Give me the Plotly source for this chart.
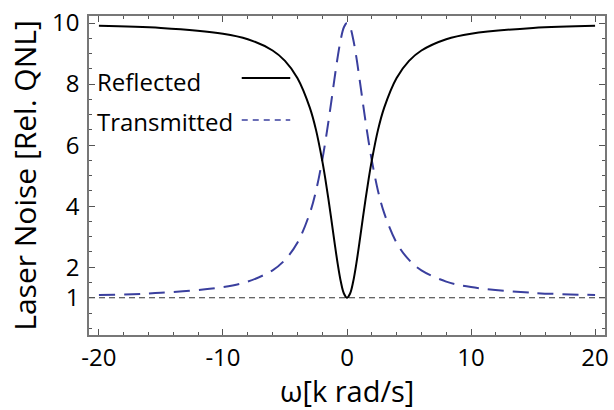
import plotly.graph_objects as go

# Values
omega = [-20, -15, -10, -8, -6, -5, -4, -3, -2.5, -2, -1.75, -1.5, -1.25, -1, -0.75, -0.5, -0.25, 0,
         0.25, 0.5, 0.75, 1, 1.25, 1.5, 1.75, 2, 2.5, 3, 4, 5, 6, 8, 10, 15, 20]
reflected = [9.91, 9.84, 9.65, 9.47, 9.1, 8.76, 8.2, 7.23, 6.5, 5.5, 4.9, 4.24, 3.53, 2.8, 2.11, 1.53, 1.14, 1.0,
             1.14, 1.53, 2.11, 2.8, 3.53, 4.24, 4.9, 5.5, 6.5, 7.23, 8.2, 8.76, 9.1, 9.47, 9.65, 9.84, 9.91]
transmitted = [1.09, 1.16, 1.35, 1.53, 1.9, 2.24, 2.8, 3.77, 4.5, 5.5, 6.1, 6.76, 7.47, 8.2, 8.89, 9.47, 9.86, 10.0,
               9.86, 9.47, 8.89, 8.2, 7.47, 6.76, 6.1, 5.5, 4.5, 3.77, 2.8, 2.24, 1.9, 1.53, 1.35, 1.16, 1.09]
qnl_x = [-20.8, 20.8]
qnl_y = [1, 1]
x_ticks = [-20, -10, 0, 10, 20]
y_ticks = [1, 2, 4, 6, 8, 10]
series_names = ["Reflected", "Transmitted"]
x_title = "ω[k rad/s]"
y_title = "Laser Noise [Rel. QNL]"

BLUE = "#3a3f9e"
FONT = "Open Sans"

fig = go.Figure()
fig.add_trace(go.Scatter(x=qnl_x, y=qnl_y, mode="lines",
                         line=dict(color="#333333", width=1, dash="6px,4px"), showlegend=False))
fig.add_trace(go.Scatter(x=omega, y=transmitted, mode="lines", line_shape="spline",
                         line=dict(color=BLUE, width=2, dash="16px,9px"), name=series_names[1], showlegend=False))
fig.add_trace(go.Scatter(x=omega, y=reflected, mode="lines", line_shape="spline",
                         line=dict(color="black", width=2), name=series_names[0], showlegend=False))

axis_common = dict(showline=True, linecolor="#777777", linewidth=1.5, mirror="ticks",
                   ticks="inside", ticklen=6, tickcolor="#555555", showgrid=False, zeroline=False,
                   tickfont=dict(family=FONT, size=24, color="black"))

fig.update_xaxes(range=[-20.8, 20.8], tickvals=x_ticks, ticktext=[str(v) for v in x_ticks],
                 minor=dict(dtick=2, tick0=0, ticks="inside", ticklen=3, tickcolor="#555555"),
                 **axis_common)
fig.update_yaxes(range=[-0.22, 10.23], tickvals=y_ticks, ticktext=[str(v) for v in y_ticks],
                 ticklabelstandoff=3,
                 minor=dict(dtick=0.5, tick0=0, ticks="inside", ticklen=3, tickcolor="#555555"),
                 title=dict(text=y_title, font=dict(family=FONT, size=30, color="black"), standoff=6),
                 **axis_common)

# x-axis title as annotation for precise placement
fig.add_annotation(x=0.5, y=-0.173, xref="paper", yref="paper", text=x_title, showarrow=False,
                   xanchor="center", yanchor="middle", borderpad=0,
                   font=dict(family=FONT, size=29, color="black"))

# Legend drawn as text + sample lines (text left, sample right, as in reference)
leg = [(series_names[0], 0.795, 0.806, dict(color="black", width=2)),
       (series_names[1], 0.67, 0.674, dict(color=BLUE, width=1.5, dash="6px,5px"))]
for name, ty, ly, ln in leg:
    fig.add_annotation(x=0.02, y=ty, xref="paper", yref="paper", text=name, showarrow=False,
                       xanchor="left", yanchor="middle", xshift=-4,
                       font=dict(family=FONT, size=24, color="black"))
    fig.add_shape(type="line", xref="paper", yref="paper", x0=0.296, x1=0.39, y0=ly, y1=ly, line=ln)

fig.update_layout(width=614, height=410, margin=dict(l=89, r=5, t=13, b=75),
                  plot_bgcolor="white", paper_bgcolor="white", showlegend=False)

fig.write_html("out.html")
